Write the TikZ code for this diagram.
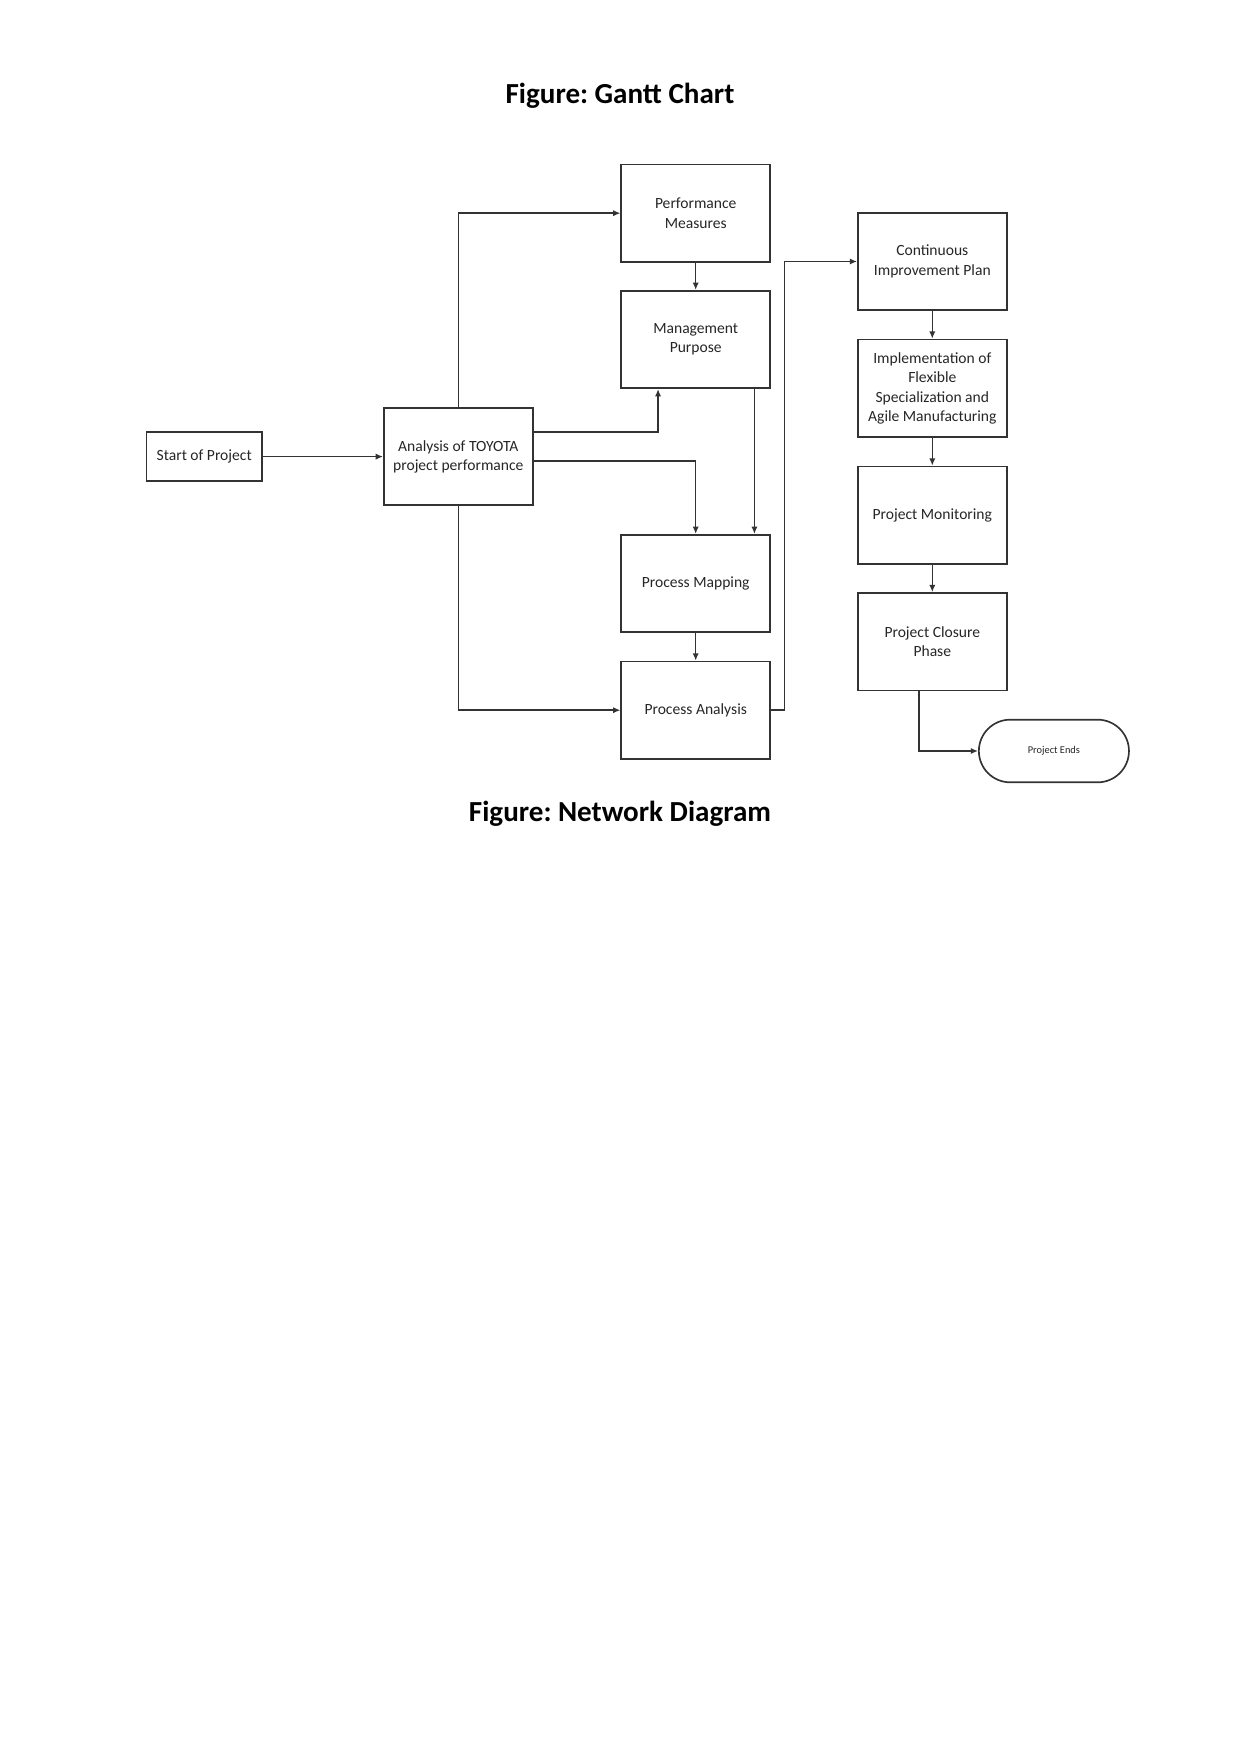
\documentclass[tikz,border=0pt]{standalone}
\usepackage{fontspec}
\setmainfont{Carlito}
\usetikzlibrary{positioning,arrows.meta,calc}

\begin{document}
\frenchspacing
\begin{tikzpicture}[
    x=0.016922cm,y=-0.016922cm,
    font=\fontsize{7.5}{9.3}\selectfont,
    box/.style={draw=black!80,line width=0.8pt,minimum width=2.52cm,minimum height=1.65cm,align=center,inner sep=1pt,text=black!85},
    terminal/.style={box,rounded corners=0.53cm,minimum width=2.54cm,minimum height=1.06cm,font=\fontsize{5}{6}\selectfont},
    arr/.style={-{Latex[length=3.5pt,width=3pt]},line width=0.75pt,draw=black!80},
    title/.style={font=\fontsize{14}{17}\selectfont\bfseries}
  ]
    \useasboundingbox (0,0) rectangle (1241,1754);

    \node[title] (gantt) at (620,96) {Figure: Gantt Chart};
    \node[title] (network) at (620,814) {Figure: Network Diagram};

    \node[box,minimum width=1.95cm,minimum height=0.83cm] (start) at (204.2,456.6) {Start of Project};
    \node[box,minimum height=1.64cm] (analysis) at (458.3,456.6) {Analysis of TOYOTA\\project performance};

    \node[box] (perf) at (695.7,213.2) {Performance\\Measures};
    \node[box] (mgmt) at (695.7,339.5) {Management\\Purpose};
    \node[box] (pmap) at (695.7,583.5) {Process Mapping};
    \node[box] (panal) at (695.7,710.2) {Process Analysis};

    \node[box] (cip) at (932.3,261.5) {Continuous\\Improvement Plan};
    \node[box] (impl) at (932.3,388.3) {Implementation of\\Flexible\\Specialization and\\Agile Manufacturing};
    \node[box] (pmon) at (932.3,515.3) {Project Monitoring};
    \node[box] (pclose) at (932.3,641.7) {Project Closure\\Phase};
    \node[terminal] (ends) at (1053.9,751) {Project Ends};

    \coordinate (mgmtin) at ($(mgmt.south west)!0.25!(mgmt.south east)$);
    \coordinate (mgmtout) at ($(mgmt.south west)!0.89!(mgmt.south east)$);
    \coordinate (pcloseout) at ($(pclose.south west)!0.41!(pclose.south east)$);
    \coordinate (bend) at ($(panal.east)+(13.6,0)$);

    \draw[arr] (start.east) -- (analysis.west);
    \draw[arr] (analysis.north) |- (perf.west);
    \draw[arr] ([yshift=0.416cm]analysis.east) -| (mgmtin);
    \draw[arr] ([yshift=-0.075cm]analysis.east) -| (pmap.north);
    \draw[arr] (analysis.south) |- (panal.west);
    \draw[arr] (perf.south) -- (mgmt.north);
    \draw[arr] (mgmtout) -- (mgmtout |- pmap.north);
    \draw[arr] (pmap.south) -- (panal.north);
    \draw[arr] (panal.east) -- (bend) |- (cip.west);
    \draw[arr] (cip.south) -- (impl.north);
    \draw[arr] (impl.south) -- (pmon.north);
    \draw[arr] (pmon.south) -- (pclose.north);
    \draw[arr] (pcloseout) |- (ends.west);
  \end{tikzpicture}
\end{document}
